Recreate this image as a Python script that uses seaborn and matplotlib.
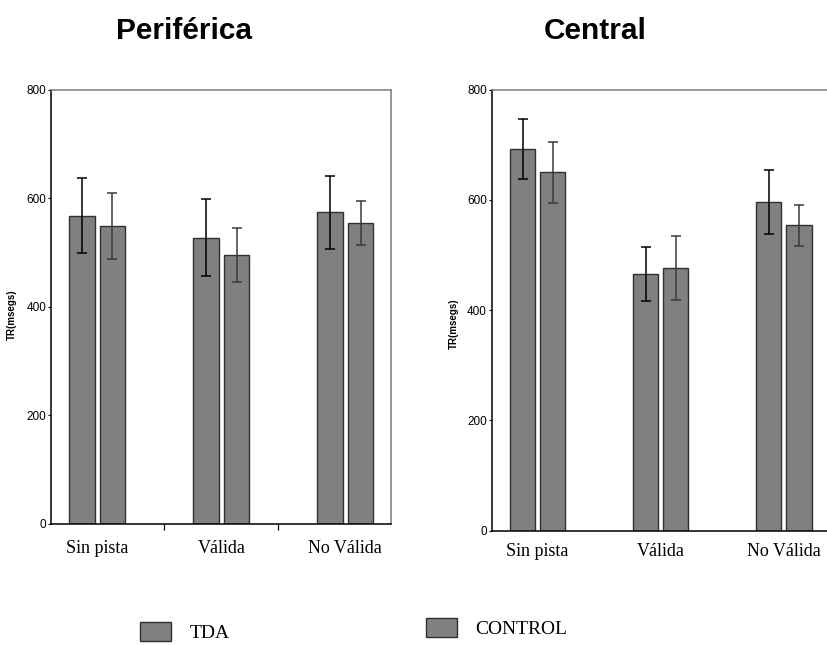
import pandas as pd
import matplotlib
matplotlib.use("Agg")
import matplotlib.pyplot as plt
import seaborn as sns
from matplotlib.patches import Patch

# Values (TR in msegs)
conditions = ['Sin pista', 'Válida', 'No Válida']
groups = ['TDA', 'CONTROL']

periferica_tda = [568, 527, 574]
periferica_control = [549, 495, 554]
periferica_tda_err = [69, 71, 67]
periferica_control_err = [61, 50, 41]

central_tda = [692, 466, 596]
central_control = [650, 476, 554]
central_tda_err = [54, 49, 58]
central_control_err = [55, 58, 37]

yticks = [0, 200, 400, 600, 800]

sns.set_theme(style="white")
plt.rcParams['font.family'] = ['Liberation Sans', 'DejaVu Sans']
plt.rcParams['text.color'] = 'black'
plt.rcParams['axes.labelcolor'] = 'black'
plt.rcParams['xtick.color'] = 'black'
plt.rcParams['ytick.color'] = 'black'

bar_color = '#808080'
edge_color = '#303030'

fig = plt.figure(figsize=(8.27, 6.45), dpi=100)
ax1 = fig.add_axes([0.0617, 0.1876, 0.4111, 0.6736])
ax2 = fig.add_axes([0.5946, 0.1772, 0.4078, 0.6837])


def make_df(tda, control):
    return pd.DataFrame({
        'cond': conditions * 2,
        'grupo': ['TDA'] * 3 + ['CONTROL'] * 3,
        'tr': tda + control,
    })


def draw_panel(ax, tda, control, tda_err, control_err, label_xy, xpad, side_ticks):
    df = make_df(tda, control)
    sns.barplot(data=df, x='cond', y='tr', hue='grupo', order=conditions, hue_order=groups,
                palette=[bar_color, bar_color], errorbar=None, width=0.49, gap=0.155,
                edgecolor=edge_color, linewidth=1.0, saturation=1, ax=ax, legend=False)
    errs = [tda_err, control_err]
    ecolors = ['black', '#3a3a3a']
    for cont, err, ec in zip(ax.containers, errs, ecolors):
        xs = [b.get_x() + b.get_width() / 2 for b in cont]
        ys = [b.get_height() for b in cont]
        ax.errorbar(xs, ys, yerr=err, fmt='none', ecolor=ec, elinewidth=1.1,
                    capsize=3.5, capthick=1.1, zorder=3)
    ax.set_ylim(0, 800)
    ax.set_xlim(-0.373, 2.368)
    ax.set_yticks(yticks)
    ax.set_yticklabels([str(v) for v in yticks], fontsize=8.5)
    ax.tick_params(axis='y', left=True, length=2.5, width=0.8, pad=1, colors='black')
    ax.set_xticks(range(3))
    ax.set_xticklabels(conditions, fontsize=13, family=['Liberation Serif'])
    ax.tick_params(axis='x', bottom=False, pad=xpad, colors='black')
    if side_ticks:
        ax.set_xticks([0.54, 1.46], minor=True)
        ax.tick_params(axis='x', which='minor', bottom=True, length=4, width=0.9, color='black')
    ax.set_xlabel('')
    ax.set_ylabel('TR(msegs)', fontsize=7, fontweight='bold', color='black')
    ax.yaxis.set_label_coords(*label_xy)
    for s in ['left', 'bottom']:
        ax.spines[s].set_color('black')
        ax.spines[s].set_linewidth(1.1)
    for s in ['top', 'right']:
        ax.spines[s].set_color('#7a7a7a')
        ax.spines[s].set_linewidth(1.1)
    ax.grid(False)


draw_panel(ax1, periferica_tda, periferica_control, periferica_tda_err, periferica_control_err,
           (-0.1, 0.481), 5.5, True)
draw_panel(ax2, central_tda, central_control, central_tda_err, central_control_err,
           (-0.097, 0.469), 2.5, False)

fig.text(184.5 / 827, 1 - 31 / 645, 'Periférica', ha='center', va='center',
         fontsize=21.5, fontweight='bold', color='black')
fig.text(595.5 / 827, 1 - 31 / 645, 'Central', ha='center', va='center',
         fontsize=21.5, fontweight='bold', color='black')

# two separate legend entries, as in the original
for name, (lx, ly) in zip(groups, [(130 / 827, 1 - 632 / 645), (416 / 827, 1 - 628 / 645)]):
    h = Patch(facecolor=bar_color, edgecolor=edge_color, linewidth=1.0)
    fig.legend([h], [name], loc='center left', bbox_to_anchor=(lx, ly), frameon=False,
               prop={'family': 'Liberation Serif', 'size': 14},
               handlelength=1.6, handleheight=1.15, handletextpad=0.95, borderpad=0,
               labelcolor='black')

fig.savefig('out.png', dpi=100, facecolor='white')
